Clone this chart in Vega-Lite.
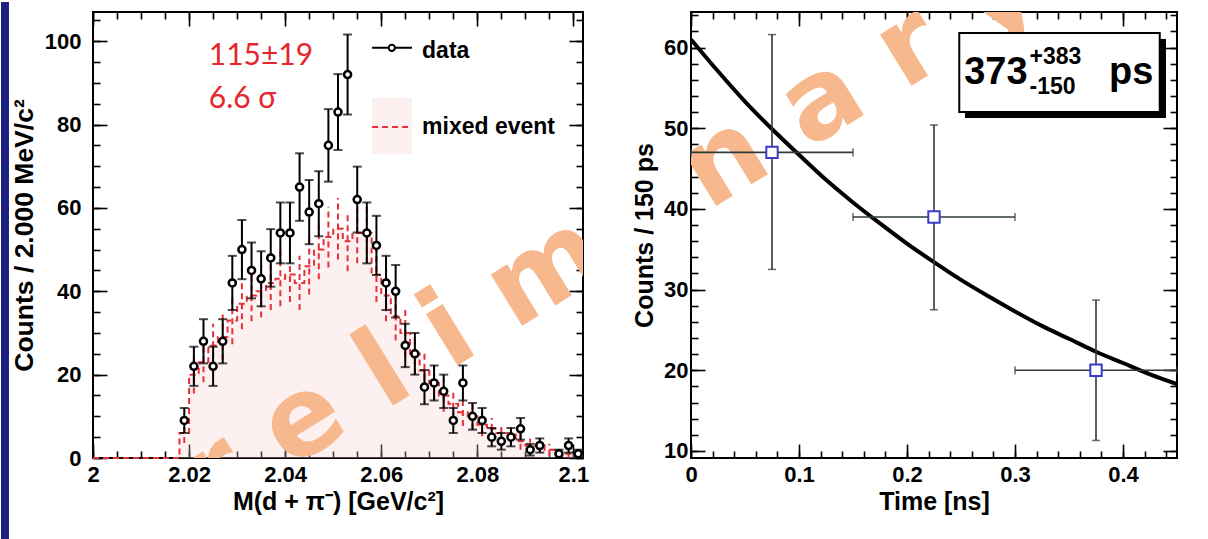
{
  "$schema": "https://vega.github.io/schema/vega-lite/v6.json",
  "background": "white",
  "padding": {"left": 0, "top": 0, "right": 0, "bottom": 0},
  "spacing": 41,
  "datasets": {
    "hist": [
      {"c": 2.019, "n": 9, "lo": 6.0, "hi": 12.0},
      {"c": 2.021, "n": 22, "lo": 17.3, "hi": 26.7},
      {"c": 2.023, "n": 28, "lo": 22.7, "hi": 33.3},
      {"c": 2.025, "n": 22, "lo": 17.3, "hi": 26.7},
      {"c": 2.027, "n": 28, "lo": 22.7, "hi": 33.3},
      {"c": 2.029, "n": 42, "lo": 35.5, "hi": 48.5},
      {"c": 2.031, "n": 50, "lo": 42.9, "hi": 57.1},
      {"c": 2.033, "n": 45, "lo": 38.3, "hi": 51.7},
      {"c": 2.035, "n": 43, "lo": 36.4, "hi": 49.6},
      {"c": 2.037, "n": 48, "lo": 41.1, "hi": 54.9},
      {"c": 2.039, "n": 54, "lo": 46.7, "hi": 61.3},
      {"c": 2.041, "n": 54, "lo": 46.7, "hi": 61.3},
      {"c": 2.043, "n": 65, "lo": 56.9, "hi": 73.1},
      {"c": 2.045, "n": 59, "lo": 51.3, "hi": 66.7},
      {"c": 2.047, "n": 61, "lo": 53.2, "hi": 68.8},
      {"c": 2.049, "n": 75, "lo": 66.3, "hi": 83.7},
      {"c": 2.051, "n": 83, "lo": 73.9, "hi": 92.1},
      {"c": 2.053, "n": 92, "lo": 82.4, "hi": 101.6},
      {"c": 2.055, "n": 62, "lo": 54.1, "hi": 69.9},
      {"c": 2.057, "n": 54, "lo": 46.7, "hi": 61.3},
      {"c": 2.059, "n": 51, "lo": 43.9, "hi": 58.1},
      {"c": 2.061, "n": 42, "lo": 35.5, "hi": 48.5},
      {"c": 2.063, "n": 40, "lo": 33.7, "hi": 46.3},
      {"c": 2.065, "n": 27, "lo": 21.8, "hi": 32.2},
      {"c": 2.067, "n": 25, "lo": 20.0, "hi": 30.0},
      {"c": 2.069, "n": 17, "lo": 12.9, "hi": 21.1},
      {"c": 2.071, "n": 18, "lo": 13.8, "hi": 22.2},
      {"c": 2.073, "n": 16, "lo": 12.0, "hi": 20.0},
      {"c": 2.075, "n": 9, "lo": 6.0, "hi": 12.0},
      {"c": 2.077, "n": 18, "lo": 13.8, "hi": 22.2},
      {"c": 2.079, "n": 10, "lo": 6.8, "hi": 13.2},
      {"c": 2.081, "n": 9, "lo": 6.0, "hi": 12.0},
      {"c": 2.083, "n": 5, "lo": 2.8, "hi": 7.2},
      {"c": 2.085, "n": 4, "lo": 2.0, "hi": 6.0},
      {"c": 2.087, "n": 5, "lo": 2.8, "hi": 7.2},
      {"c": 2.089, "n": 7, "lo": 4.4, "hi": 9.6},
      {"c": 2.091, "n": 2, "lo": 0.6, "hi": 3.4},
      {"c": 2.093, "n": 3, "lo": 1.3, "hi": 4.7},
      {"c": 2.097, "n": 1, "lo": 0.0, "hi": 2.0},
      {"c": 2.099, "n": 3, "lo": 1.3, "hi": 4.7},
      {"c": 2.101, "n": 1, "lo": 0.0, "hi": 2.0}
    ],
    "mixed": [
      {"e": 2.0, "n": 0},
      {"e": 2.018, "c": 2.019, "n": 6, "lo": 3.6, "hi": 8.4},
      {"e": 2.02, "c": 2.021, "n": 20, "lo": 15.5, "hi": 24.5},
      {"e": 2.022, "c": 2.023, "n": 23, "lo": 18.2, "hi": 27.8},
      {"e": 2.024, "c": 2.025, "n": 27, "lo": 21.8, "hi": 32.2},
      {"e": 2.026, "c": 2.027, "n": 29, "lo": 23.6, "hi": 34.4},
      {"e": 2.028, "c": 2.029, "n": 33, "lo": 27.3, "hi": 38.7},
      {"e": 2.03, "c": 2.031, "n": 37, "lo": 30.9, "hi": 43.1},
      {"e": 2.032, "c": 2.033, "n": 39, "lo": 32.8, "hi": 45.2},
      {"e": 2.034, "c": 2.035, "n": 40, "lo": 33.7, "hi": 46.3},
      {"e": 2.036, "c": 2.037, "n": 42, "lo": 35.5, "hi": 48.5},
      {"e": 2.038, "c": 2.039, "n": 43, "lo": 36.4, "hi": 49.6},
      {"e": 2.04, "c": 2.041, "n": 44, "lo": 37.4, "hi": 50.6},
      {"e": 2.042, "c": 2.043, "n": 42, "lo": 35.5, "hi": 48.5},
      {"e": 2.044, "c": 2.045, "n": 46, "lo": 39.2, "hi": 52.8},
      {"e": 2.046, "c": 2.047, "n": 50, "lo": 42.9, "hi": 57.1},
      {"e": 2.048, "c": 2.049, "n": 53, "lo": 45.7, "hi": 60.3},
      {"e": 2.05, "c": 2.051, "n": 55, "lo": 47.6, "hi": 62.4},
      {"e": 2.052, "c": 2.053, "n": 52, "lo": 44.8, "hi": 59.2},
      {"e": 2.054, "c": 2.055, "n": 54, "lo": 46.7, "hi": 61.3},
      {"e": 2.056, "c": 2.057, "n": 54, "lo": 46.7, "hi": 61.3},
      {"e": 2.058, "c": 2.059, "n": 44, "lo": 37.4, "hi": 50.6},
      {"e": 2.06, "c": 2.061, "n": 39, "lo": 32.8, "hi": 45.2},
      {"e": 2.062, "c": 2.063, "n": 34, "lo": 28.2, "hi": 39.8},
      {"e": 2.064, "c": 2.065, "n": 30, "lo": 24.5, "hi": 35.5},
      {"e": 2.066, "c": 2.067, "n": 25, "lo": 20.0, "hi": 30.0},
      {"e": 2.068, "c": 2.069, "n": 21, "lo": 16.4, "hi": 25.6},
      {"e": 2.07, "c": 2.071, "n": 18, "lo": 13.8, "hi": 22.2},
      {"e": 2.072, "c": 2.073, "n": 15, "lo": 11.1, "hi": 18.9},
      {"e": 2.074, "c": 2.075, "n": 13, "lo": 9.4, "hi": 16.6},
      {"e": 2.076, "c": 2.077, "n": 11, "lo": 7.7, "hi": 14.3},
      {"e": 2.078, "c": 2.079, "n": 10, "lo": 6.8, "hi": 13.2},
      {"e": 2.08, "c": 2.081, "n": 8, "lo": 5.2, "hi": 10.8},
      {"e": 2.082, "c": 2.083, "n": 7, "lo": 4.4, "hi": 9.6},
      {"e": 2.084, "c": 2.085, "n": 6, "lo": 3.6, "hi": 8.4},
      {"e": 2.086, "c": 2.087, "n": 6, "lo": 3.6, "hi": 8.4},
      {"e": 2.088, "c": 2.089, "n": 4, "lo": 2.0, "hi": 6.0},
      {"e": 2.09, "c": 2.091, "n": 3, "lo": 1.3, "hi": 4.7},
      {"e": 2.092, "c": 2.093, "n": 3, "lo": 1.3, "hi": 4.7},
      {"e": 2.094, "c": 2.095, "n": 2, "lo": 0.6, "hi": 3.4},
      {"e": 2.096, "c": 2.097, "n": 1, "lo": 0.0, "hi": 2.0},
      {"e": 2.098, "c": 2.099, "n": 1, "lo": 0.0, "hi": 2.0},
      {"e": 2.1, "c": 2.101, "n": 1, "lo": 0.0, "hi": 2.0},
      {"e": 2.102, "n": 1}
    ],
    "life": [
      {"t": 0.075, "n": 47, "lo": 32.5, "hi": 61.6, "tlo": 0.0, "thi": 0.15},
      {"t": 0.225, "n": 39, "lo": 27.5, "hi": 50.4, "tlo": 0.15, "thi": 0.3},
      {"t": 0.375, "n": 20, "lo": 11.3, "hi": 28.7, "tlo": 0.3, "thi": 0.45}
    ],
    "fit": [
      {"t": 0.0, "f": 61.0}, {"t": 0.025, "f": 57.05}, {"t": 0.05, "f": 53.3},
      {"t": 0.075, "f": 49.9}, {"t": 0.1, "f": 46.7}, {"t": 0.125, "f": 43.6},
      {"t": 0.15, "f": 40.8}, {"t": 0.175, "f": 38.2}, {"t": 0.2, "f": 35.7},
      {"t": 0.225, "f": 33.4}, {"t": 0.25, "f": 31.2}, {"t": 0.275, "f": 29.2},
      {"t": 0.3, "f": 27.3}, {"t": 0.325, "f": 25.5}, {"t": 0.35, "f": 23.9},
      {"t": 0.375, "f": 22.3}, {"t": 0.4, "f": 20.9}, {"t": 0.425, "f": 19.5},
      {"t": 0.45, "f": 18.3}
    ],
    "one": [{}]
  },
  "config": {
    "view": {"stroke": "black", "strokeWidth": 2},
    "axis": {
      "labelFont": "Liberation Sans", "labelFontWeight": "bold", "labelFontSize": 22, "labelColor": "black",
      "titleFont": "Liberation Sans", "titleFontWeight": "bold", "titleFontSize": 25, "titleColor": "black",
      "grid": false, "domain": false, "ticks": true, "tickColor": "black", "tickWidth": 1.6,
      "labelOverlap": false, "labelFlush": false, "labelBound": false
    }
  },
  "hconcat": [
    {
      "width": 490,
      "height": 446,
      "resolve": {"axis": {"x": "independent", "y": "independent"}},
      "layer": [
        {
          "data": {"name": "one"},
          "mark": {"type": "rect", "fill": "#1c2080"},
          "encoding": {
            "x": {"datum": 1.98085, "type": "quantitative", "scale": {"domain": [2.0, 2.102], "nice": false, "zero": false}, "axis": null},
            "x2": {"datum": 1.98251},
            "y": {"datum": 109.4, "type": "quantitative", "scale": {"domain": [0, 107], "nice": false}, "axis": null},
            "y2": {"datum": -25}
          }
        },
        {
          "data": {"name": "mixed"},
          "mark": {"type": "area", "interpolate": "step-after", "fill": "#f4cccc", "fillOpacity": 0.3},
          "encoding": {
            "x": {"field": "e", "type": "quantitative", "scale": {"domain": [2.0, 2.102], "nice": false, "zero": false},
              "axis": {"orient": "bottom", "labels": false, "title": null, "tickSize": 7, "offset": -7,
                "values": [2, 2.005, 2.01, 2.015, 2.02, 2.025, 2.03, 2.035, 2.04, 2.045, 2.05, 2.055, 2.06, 2.065, 2.07, 2.075, 2.08, 2.085, 2.09, 2.095, 2.1]}},
            "y": {"field": "n", "type": "quantitative", "scale": {"domain": [0, 107], "nice": false},
              "axis": {"orient": "left", "labels": false, "title": null, "tickSize": 7, "offset": -7,
                "values": [0, 5, 10, 15, 20, 25, 30, 35, 40, 45, 50, 55, 60, 65, 70, 75, 80, 85, 90, 95, 100, 105]}}
          }
        },
        {
          "data": {"name": "one"},
          "mark": {"type": "text", "text": "P r e l i m i n a r y", "font": "DejaVu Sans", "fontWeight": "bold", "fontSize": 110, "angle": 328.4, "align": "center", "baseline": "middle", "color": "#f6b88c", "clip": true},
          "encoding": {
            "x": {"datum": 2.0971, "type": "quantitative", "scale": {"domain": [2.0, 2.102], "nice": false, "zero": false}, "axis": null},
            "y": {"datum": 46.5, "type": "quantitative", "scale": {"domain": [0, 107], "nice": false}, "axis": null}
          }
        },
        {
          "data": {"name": "mixed"},
          "mark": {"type": "line", "interpolate": "step-after", "color": "#e8303a", "strokeWidth": 2, "strokeDash": [6, 4]},
          "encoding": {
            "x": {"field": "e", "type": "quantitative", "scale": {"domain": [2.0, 2.102], "nice": false, "zero": false},
              "axis": {"orient": "top", "labels": false, "title": null, "tickSize": 7, "offset": -7,
                "values": [2, 2.005, 2.01, 2.015, 2.02, 2.025, 2.03, 2.035, 2.04, 2.045, 2.05, 2.055, 2.06, 2.065, 2.07, 2.075, 2.08, 2.085, 2.09, 2.095, 2.1]}},
            "y": {"field": "n", "type": "quantitative", "scale": {"domain": [0, 107], "nice": false},
              "axis": {"orient": "right", "labels": false, "title": null, "tickSize": 7, "offset": -7,
                "values": [0, 5, 10, 15, 20, 25, 30, 35, 40, 45, 50, 55, 60, 65, 70, 75, 80, 85, 90, 95, 100, 105]}}
          }
        },
        {
          "data": {"name": "mixed"},
          "mark": {"type": "rule", "color": "#e8303a", "strokeWidth": 2, "strokeDash": [6, 4]},
          "encoding": {
            "x": {"field": "c", "type": "quantitative", "scale": {"domain": [2.0, 2.102], "nice": false, "zero": false}, "axis": null},
            "y": {"field": "lo", "type": "quantitative", "scale": {"domain": [0, 107], "nice": false}, "axis": null},
            "y2": {"field": "hi"}
          }
        },
        {
          "data": {"name": "hist"},
          "mark": {"type": "rule", "color": "black", "strokeWidth": 2},
          "encoding": {
            "x": {"field": "c", "type": "quantitative", "scale": {"domain": [2.0, 2.102], "nice": false, "zero": false},
              "axis": {"orient": "top", "labels": false, "title": null, "tickSize": 14, "offset": -14,
                "values": [2, 2.02, 2.04, 2.06, 2.08, 2.1]}},
            "y": {"field": "lo", "type": "quantitative", "scale": {"domain": [0, 107], "nice": false},
              "axis": {"orient": "right", "labels": false, "title": null, "tickSize": 14, "offset": -14,
                "values": [0, 20, 40, 60, 80, 100]}},
            "y2": {"field": "hi"}
          }
        },
        {
          "data": {"name": "hist"},
          "mark": {"type": "tick", "orient": "horizontal", "color": "black", "size": 9, "thickness": 2},
          "encoding": {
            "x": {"field": "c", "type": "quantitative", "scale": {"domain": [2.0, 2.102], "nice": false, "zero": false}, "axis": null},
            "y": {"field": "hi", "type": "quantitative", "scale": {"domain": [0, 107], "nice": false}, "axis": null}
          }
        },
        {
          "data": {"name": "hist"},
          "mark": {"type": "tick", "orient": "horizontal", "color": "black", "size": 9, "thickness": 2},
          "encoding": {
            "x": {"field": "c", "type": "quantitative", "scale": {"domain": [2.0, 2.102], "nice": false, "zero": false}, "axis": null},
            "y": {"field": "lo", "type": "quantitative", "scale": {"domain": [0, 107], "nice": false}, "axis": null}
          }
        },
        {
          "data": {"name": "hist"},
          "mark": {"type": "point", "shape": "circle", "filled": true, "fill": "white", "stroke": "black", "strokeWidth": 2.5, "size": 50, "opacity": 1},
          "encoding": {
            "x": {"field": "c", "type": "quantitative", "scale": {"domain": [2.0, 2.102], "nice": false, "zero": false},
              "axis": {"orient": "bottom", "title": "M(d + π⁻) [GeV/c²]", "format": ".2~f",
                "values": [2, 2.02, 2.04, 2.06, 2.08, 2.1], "tickSize": 14, "offset": -14,
                "labelPadding": 6, "titlePadding": 4}},
            "y": {"field": "n", "type": "quantitative", "scale": {"domain": [0, 107], "nice": false},
              "axis": {"orient": "left", "title": "Counts / 2.000 MeV/c²", "titleFontSize": 26.5,
                "values": [0, 20, 40, 60, 80, 100], "tickSize": 14, "offset": -14,
                "labelPadding": 12, "titlePadding": 6}}
          }
        },
        {
          "data": {"name": "one"},
          "mark": {"type": "rect", "fill": "#f4cccc", "fillOpacity": 0.3},
          "encoding": {
            "x": {"datum": 2.0581, "type": "quantitative", "scale": {"domain": [2.0, 2.102], "nice": false, "zero": false}, "axis": null},
            "x2": {"datum": 2.0664},
            "y": {"datum": 86.4, "type": "quantitative", "scale": {"domain": [0, 107], "nice": false}, "axis": null},
            "y2": {"datum": 72.9}
          }
        },
        {
          "data": {"name": "one"},
          "mark": {"type": "rule", "color": "#e8303a", "strokeWidth": 2, "strokeDash": [6, 4]},
          "encoding": {
            "x": {"datum": 2.0581, "type": "quantitative", "scale": {"domain": [2.0, 2.102], "nice": false, "zero": false}, "axis": null},
            "x2": {"datum": 2.0664},
            "y": {"datum": 79.4, "type": "quantitative", "scale": {"domain": [0, 107], "nice": false}, "axis": null}
          }
        },
        {
          "data": {"name": "one"},
          "mark": {"type": "rule", "color": "black", "strokeWidth": 2},
          "encoding": {
            "x": {"datum": 2.0581, "type": "quantitative", "scale": {"domain": [2.0, 2.102], "nice": false, "zero": false}, "axis": null},
            "x2": {"datum": 2.0664},
            "y": {"datum": 98.4, "type": "quantitative", "scale": {"domain": [0, 107], "nice": false}, "axis": null}
          }
        },
        {
          "data": {"name": "one"},
          "mark": {"type": "point", "shape": "circle", "filled": true, "fill": "white", "stroke": "black", "strokeWidth": 2, "size": 40, "opacity": 1},
          "encoding": {
            "x": {"datum": 2.0622, "type": "quantitative", "scale": {"domain": [2.0, 2.102], "nice": false, "zero": false}, "axis": null},
            "y": {"datum": 98.4, "type": "quantitative", "scale": {"domain": [0, 107], "nice": false}, "axis": null}
          }
        },
        {
          "data": {"values": [{"label": "data", "y": 95.97}, {"label": "mixed event", "y": 77.7}]},
          "mark": {"type": "text", "font": "Liberation Sans", "fontWeight": "bold", "fontSize": 23, "align": "left", "baseline": "alphabetic", "color": "black"},
          "encoding": {
            "x": {"datum": 2.0685, "type": "quantitative", "scale": {"domain": [2.0, 2.102], "nice": false, "zero": false}, "axis": null},
            "y": {"field": "y", "type": "quantitative", "scale": {"domain": [0, 107], "nice": false}, "axis": null},
            "text": {"field": "label"}
          }
        },
        {
          "data": {"values": [{"label": "115±19", "y": 94.2}, {"label": "6.6  σ", "y": 84.0}]},
          "mark": {"type": "text", "font": "Lato", "fontSize": 30, "align": "left", "baseline": "alphabetic", "color": "#e5262d"},
          "encoding": {
            "x": {"datum": 2.0241, "type": "quantitative", "scale": {"domain": [2.0, 2.102], "nice": false, "zero": false}, "axis": null},
            "y": {"field": "y", "type": "quantitative", "scale": {"domain": [0, 107], "nice": false}, "axis": null},
            "text": {"field": "label"}
          }
        }
      ]
    },
    {
      "width": 486,
      "height": 446,
      "resolve": {"axis": {"x": "independent", "y": "independent"}},
      "layer": [
        {
          "data": {"name": "one"},
          "mark": {"type": "text", "text": "P r e l i m i n a r y", "font": "DejaVu Sans", "fontWeight": "bold", "fontSize": 110, "angle": 328.4, "align": "center", "baseline": "middle", "color": "#f6b88c", "clip": true},
          "encoding": {
            "x": {"datum": -0.1227, "type": "quantitative", "scale": {"domain": [0, 0.45], "nice": false, "zero": false}, "axis": null},
            "y": {"datum": 33.14, "type": "quantitative", "scale": {"domain": [9.13, 64.4], "nice": false, "zero": false}, "axis": null}
          }
        },
        {
          "data": {"name": "fit"},
          "mark": {"type": "line", "interpolate": "monotone", "color": "black", "strokeWidth": 4, "clip": true},
          "encoding": {
            "x": {"field": "t", "type": "quantitative", "scale": {"domain": [0, 0.45], "nice": false, "zero": false},
              "axis": {"orient": "bottom", "labels": false, "title": null, "tickSize": 7, "offset": -7,
                "values": [0, 0.02, 0.04, 0.06, 0.08, 0.1, 0.12, 0.14, 0.16, 0.18, 0.2, 0.22, 0.24, 0.26, 0.28, 0.3, 0.32, 0.34, 0.36, 0.38, 0.4, 0.42, 0.44]}},
            "y": {"field": "f", "type": "quantitative", "scale": {"domain": [9.13, 64.4], "nice": false, "zero": false},
              "axis": {"orient": "left", "labels": false, "title": null, "tickSize": 7, "offset": -7,
                "values": [10, 12, 14, 16, 18, 20, 22, 24, 26, 28, 30, 32, 34, 36, 38, 40, 42, 44, 46, 48, 50, 52, 54, 56, 58, 60, 62, 64]}}
          }
        },
        {
          "data": {"name": "life"},
          "mark": {"type": "rule", "color": "#2f3b3b", "strokeWidth": 1.6},
          "encoding": {
            "x": {"field": "tlo", "type": "quantitative", "scale": {"domain": [0, 0.45], "nice": false, "zero": false},
              "axis": {"orient": "top", "labels": false, "title": null, "tickSize": 14, "offset": -14,
                "values": [0, 0.1, 0.2, 0.3, 0.4]}},
            "x2": {"field": "thi"},
            "y": {"field": "n", "type": "quantitative", "scale": {"domain": [9.13, 64.4], "nice": false, "zero": false},
              "axis": {"orient": "right", "labels": false, "title": null, "tickSize": 14, "offset": -14,
                "values": [10, 20, 30, 40, 50, 60]}}
          }
        },
        {
          "data": {"name": "life"},
          "mark": {"type": "rule", "color": "#2f3b3b", "strokeWidth": 1.6},
          "encoding": {
            "x": {"field": "t", "type": "quantitative", "scale": {"domain": [0, 0.45], "nice": false, "zero": false},
              "axis": {"orient": "top", "labels": false, "title": null, "tickSize": 7, "offset": -7,
                "values": [0, 0.02, 0.04, 0.06, 0.08, 0.1, 0.12, 0.14, 0.16, 0.18, 0.2, 0.22, 0.24, 0.26, 0.28, 0.3, 0.32, 0.34, 0.36, 0.38, 0.4, 0.42, 0.44]}},
            "y": {"field": "lo", "type": "quantitative", "scale": {"domain": [9.13, 64.4], "nice": false, "zero": false},
              "axis": {"orient": "right", "labels": false, "title": null, "tickSize": 7, "offset": -7,
                "values": [10, 12, 14, 16, 18, 20, 22, 24, 26, 28, 30, 32, 34, 36, 38, 40, 42, 44, 46, 48, 50, 52, 54, 56, 58, 60, 62, 64]}},
            "y2": {"field": "hi"}
          }
        },
        {
          "data": {"name": "life"},
          "mark": {"type": "tick", "orient": "horizontal", "color": "#2f3b3b", "size": 8, "thickness": 1.6},
          "encoding": {
            "x": {"field": "t", "type": "quantitative", "scale": {"domain": [0, 0.45], "nice": false, "zero": false}, "axis": null},
            "y": {"field": "hi", "type": "quantitative", "scale": {"domain": [9.13, 64.4], "nice": false, "zero": false}, "axis": null}
          }
        },
        {
          "data": {"name": "life"},
          "mark": {"type": "tick", "orient": "horizontal", "color": "#2f3b3b", "size": 8, "thickness": 1.6},
          "encoding": {
            "x": {"field": "t", "type": "quantitative", "scale": {"domain": [0, 0.45], "nice": false, "zero": false}, "axis": null},
            "y": {"field": "lo", "type": "quantitative", "scale": {"domain": [9.13, 64.4], "nice": false, "zero": false}, "axis": null}
          }
        },
        {
          "data": {"name": "life"},
          "mark": {"type": "tick", "orient": "vertical", "color": "#2f3b3b", "size": 8, "thickness": 1.6},
          "encoding": {
            "x": {"field": "thi", "type": "quantitative", "scale": {"domain": [0, 0.45], "nice": false, "zero": false}, "axis": null},
            "y": {"field": "n", "type": "quantitative", "scale": {"domain": [9.13, 64.4], "nice": false, "zero": false}, "axis": null}
          }
        },
        {
          "data": {"name": "life"},
          "mark": {"type": "tick", "orient": "vertical", "color": "#2f3b3b", "size": 8, "thickness": 1.6},
          "encoding": {
            "x": {"field": "tlo", "type": "quantitative", "scale": {"domain": [0, 0.45], "nice": false, "zero": false}, "axis": null},
            "y": {"field": "n", "type": "quantitative", "scale": {"domain": [9.13, 64.4], "nice": false, "zero": false}, "axis": null}
          }
        },
        {
          "data": {"name": "life"},
          "mark": {"type": "point", "shape": "square", "filled": true, "fill": "white", "stroke": "#3a3ac8", "strokeWidth": 2, "size": 130, "opacity": 1},
          "encoding": {
            "x": {"field": "t", "type": "quantitative", "scale": {"domain": [0, 0.45], "nice": false, "zero": false},
              "axis": {"orient": "bottom", "title": "Time [ns]", "format": ".1~f",
                "values": [0, 0.1, 0.2, 0.3, 0.4], "tickSize": 14, "offset": -14,
                "labelPadding": 6, "titlePadding": 4}},
            "y": {"field": "n", "type": "quantitative", "scale": {"domain": [9.13, 64.4], "nice": false, "zero": false},
              "axis": {"orient": "left", "title": "Counts / 150 ps",
                "values": [10, 20, 30, 40, 50, 60], "tickSize": 14, "offset": -14,
                "labelPadding": 3, "titlePadding": 6}}
          }
        },
        {
          "data": {"name": "one"},
          "mark": {"type": "rect", "fill": "black"},
          "encoding": {
            "x": {"datum": 0.2537, "type": "quantitative", "scale": {"domain": [0, 0.45], "nice": false, "zero": false}, "axis": null},
            "x2": {"datum": 0.4398},
            "y": {"datum": 61.05, "type": "quantitative", "scale": {"domain": [9.13, 64.4], "nice": false, "zero": false}, "axis": null},
            "y2": {"datum": 51.27}
          }
        },
        {
          "data": {"name": "one"},
          "mark": {"type": "rect", "fill": "white", "stroke": "black", "strokeWidth": 2},
          "encoding": {
            "x": {"datum": 0.2484, "type": "quantitative", "scale": {"domain": [0, 0.45], "nice": false, "zero": false}, "axis": null},
            "x2": {"datum": 0.434},
            "y": {"datum": 61.8, "type": "quantitative", "scale": {"domain": [9.13, 64.4], "nice": false, "zero": false}, "axis": null},
            "y2": {"datum": 52.0}
          }
        },
        {
          "data": {"values": [
            {"label": "373", "t": 0.253, "y": 55.5, "s": "big"},
            {"label": "ps", "t": 0.387, "y": 55.5, "s": "big"},
            {"label": "+383", "t": 0.3135, "y": 58.0, "s": "small"},
            {"label": "-150", "t": 0.3135, "y": 54.25, "s": "small"}
          ]},
          "mark": {"type": "text", "font": "Liberation Sans", "fontWeight": "bold", "align": "left", "baseline": "alphabetic", "color": "black"},
          "encoding": {
            "x": {"field": "t", "type": "quantitative", "scale": {"domain": [0, 0.45], "nice": false, "zero": false}, "axis": null},
            "y": {"field": "y", "type": "quantitative", "scale": {"domain": [9.13, 64.4], "nice": false, "zero": false}, "axis": null},
            "text": {"field": "label"},
            "size": {"field": "s", "type": "nominal", "scale": {"domain": ["big", "small"], "range": [38, 23]}, "legend": null}
          }
        }
      ]
    }
  ]
}
